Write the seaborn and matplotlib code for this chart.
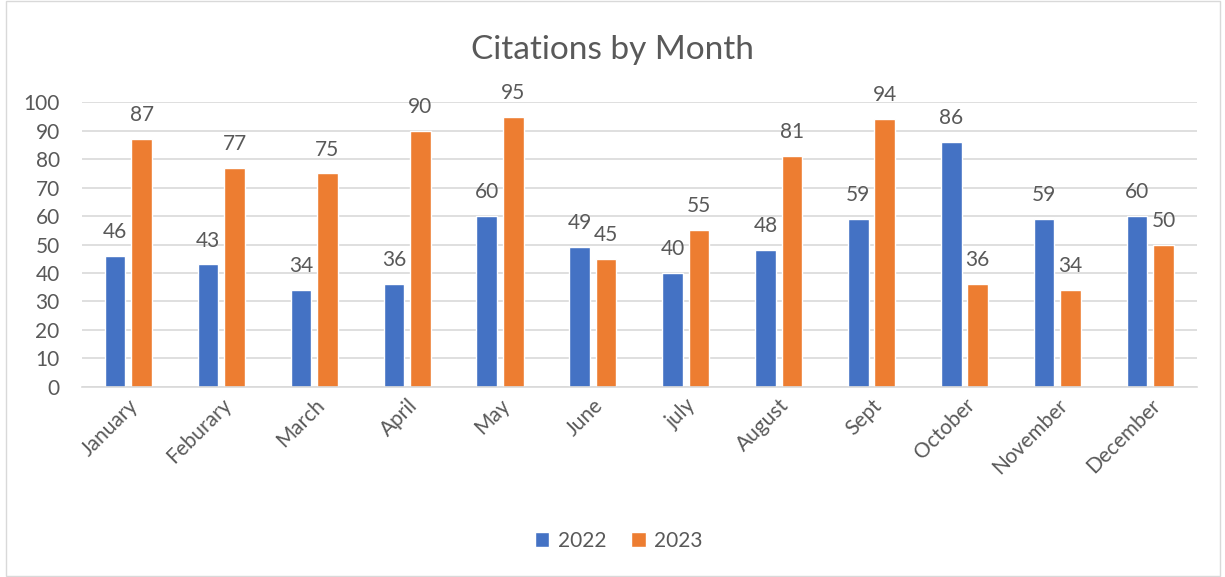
import pandas as pd
import matplotlib
matplotlib.use("Agg")
import matplotlib.pyplot as plt
import seaborn as sns

# Data
months = ["January", "Feburary", "March", "April", "May", "June",
          "july", "August", "Sept", "October", "November", "December"]
years = ["2022", "2023"]
values_2022 = [46, 43, 34, 36, 60, 49, 40, 48, 59, 86, 59, 60]
values_2023 = [87, 77, 75, 90, 95, 45, 55, 81, 94, 36, 34, 50]

colors = {"2022": "#4472C4", "2023": "#ED7D31"}
text_color = "#595959"

df = pd.DataFrame({
    "Month": months * 2,
    "Year": ["2022"] * len(months) + ["2023"] * len(months),
    "Citations": values_2022 + values_2023,
})

sns.set_style("white")
plt.rcParams["font.family"] = ["Lato", "DejaVu Sans"]

fig = plt.figure(figsize=(12.25, 5.77), dpi=100)
ax = fig.add_axes([0.0669, 0.3297, 0.910, 0.4930])

sns.barplot(data=df, x="Month", y="Citations", hue="Year", hue_order=years,
            palette=colors, saturation=1, width=0.57, gap=0.22, ax=ax, legend=True)

# Data labels
for container in ax.containers:
    ax.bar_label(container, padding=10, fontsize=15, color=text_color)

ax.set_ylim(0, 100)
ax.set_xlim(-0.5, len(months) - 0.5)
ax.set_yticks(range(0, 101, 10))
ax.yaxis.grid(True, color="#D9D9D9", linewidth=1.2)
ax.set_axisbelow(True)
ax.set_xlabel("")
ax.set_ylabel("")
for s in ["top", "right", "left"]:
    ax.spines[s].set_visible(False)
ax.spines["bottom"].set_color("#D9D9D9")
ax.spines["bottom"].set_linewidth(1.2)
ax.tick_params(axis="y", labelsize=15, labelcolor=text_color, length=0, pad=16)
ax.tick_params(axis="x", labelsize=15, labelcolor=text_color, length=0, pad=6)
plt.setp(ax.get_xticklabels(), rotation=45, ha="right", rotation_mode="anchor")

fig.suptitle("Citations by Month", fontsize=24, color=text_color, y=0.94)

leg = ax.legend(loc="center", bbox_to_anchor=(0.505, 0.063), bbox_transform=fig.transFigure,
                ncol=2, frameon=False, fontsize=15, handlelength=0.7, handleheight=0.7,
                columnspacing=1.2, handletextpad=0.4)
for t in leg.get_texts():
    t.set_color(text_color)

# chart border
fig.patches.append(plt.Rectangle((0.005, 0.002), 0.991, 0.996, transform=fig.transFigure,
                                 fill=False, edgecolor="#D9D9D9", linewidth=1))

fig.savefig("out.png", dpi=100)
